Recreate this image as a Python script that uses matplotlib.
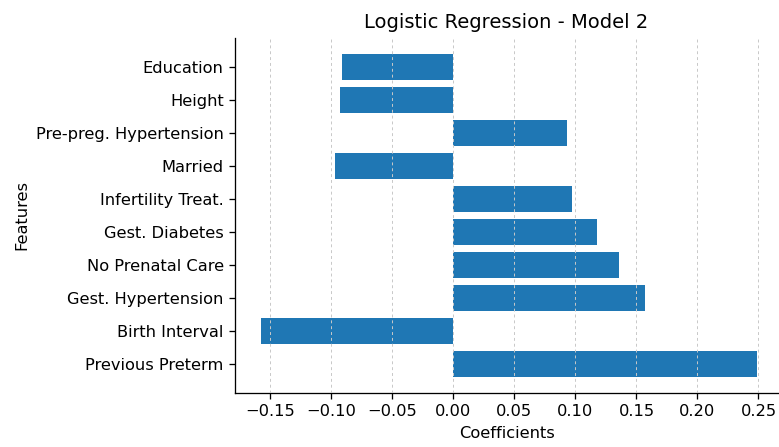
import matplotlib
matplotlib.use("Agg")
import matplotlib.pyplot as plt

features = ["Previous Preterm", "Birth Interval", "Gest. Hypertension", "No Prenatal Care",
            "Gest. Diabetes", "Infertility Treat.", "Married", "Pre-preg. Hypertension",
            "Height", "Education"]
coefficients = [0.249, -0.158, 0.1566, 0.136, 0.118, 0.0975, -0.0967, 0.0934, -0.0927, -0.0911]

DPI = 117
fig = plt.figure(figsize=(779/DPI, 447/DPI), dpi=DPI)
ax = fig.add_axes([235/779, 1-393/447, (778-235)/779, (393-38)/447])
ax.barh(features, coefficients, color="#1f77b4")
ax.set_title("Logistic Regression - Model 2")
ax.set_xlabel("Coefficients")
ax.set_ylabel("Features")
ax.xaxis.grid(True, linestyle=(0, (3, 3)), linewidth=0.6, color="#c8c8c8")
ax.set_axisbelow(False)
ax.spines["top"].set_visible(False)
ax.spines["right"].set_visible(False)
ax.set_xticks([-0.15, -0.10, -0.05, 0.0, 0.05, 0.10, 0.15, 0.20, 0.25])
ax.set_xlim(-0.179, 0.266)
fig.savefig("out.png", dpi=DPI)
